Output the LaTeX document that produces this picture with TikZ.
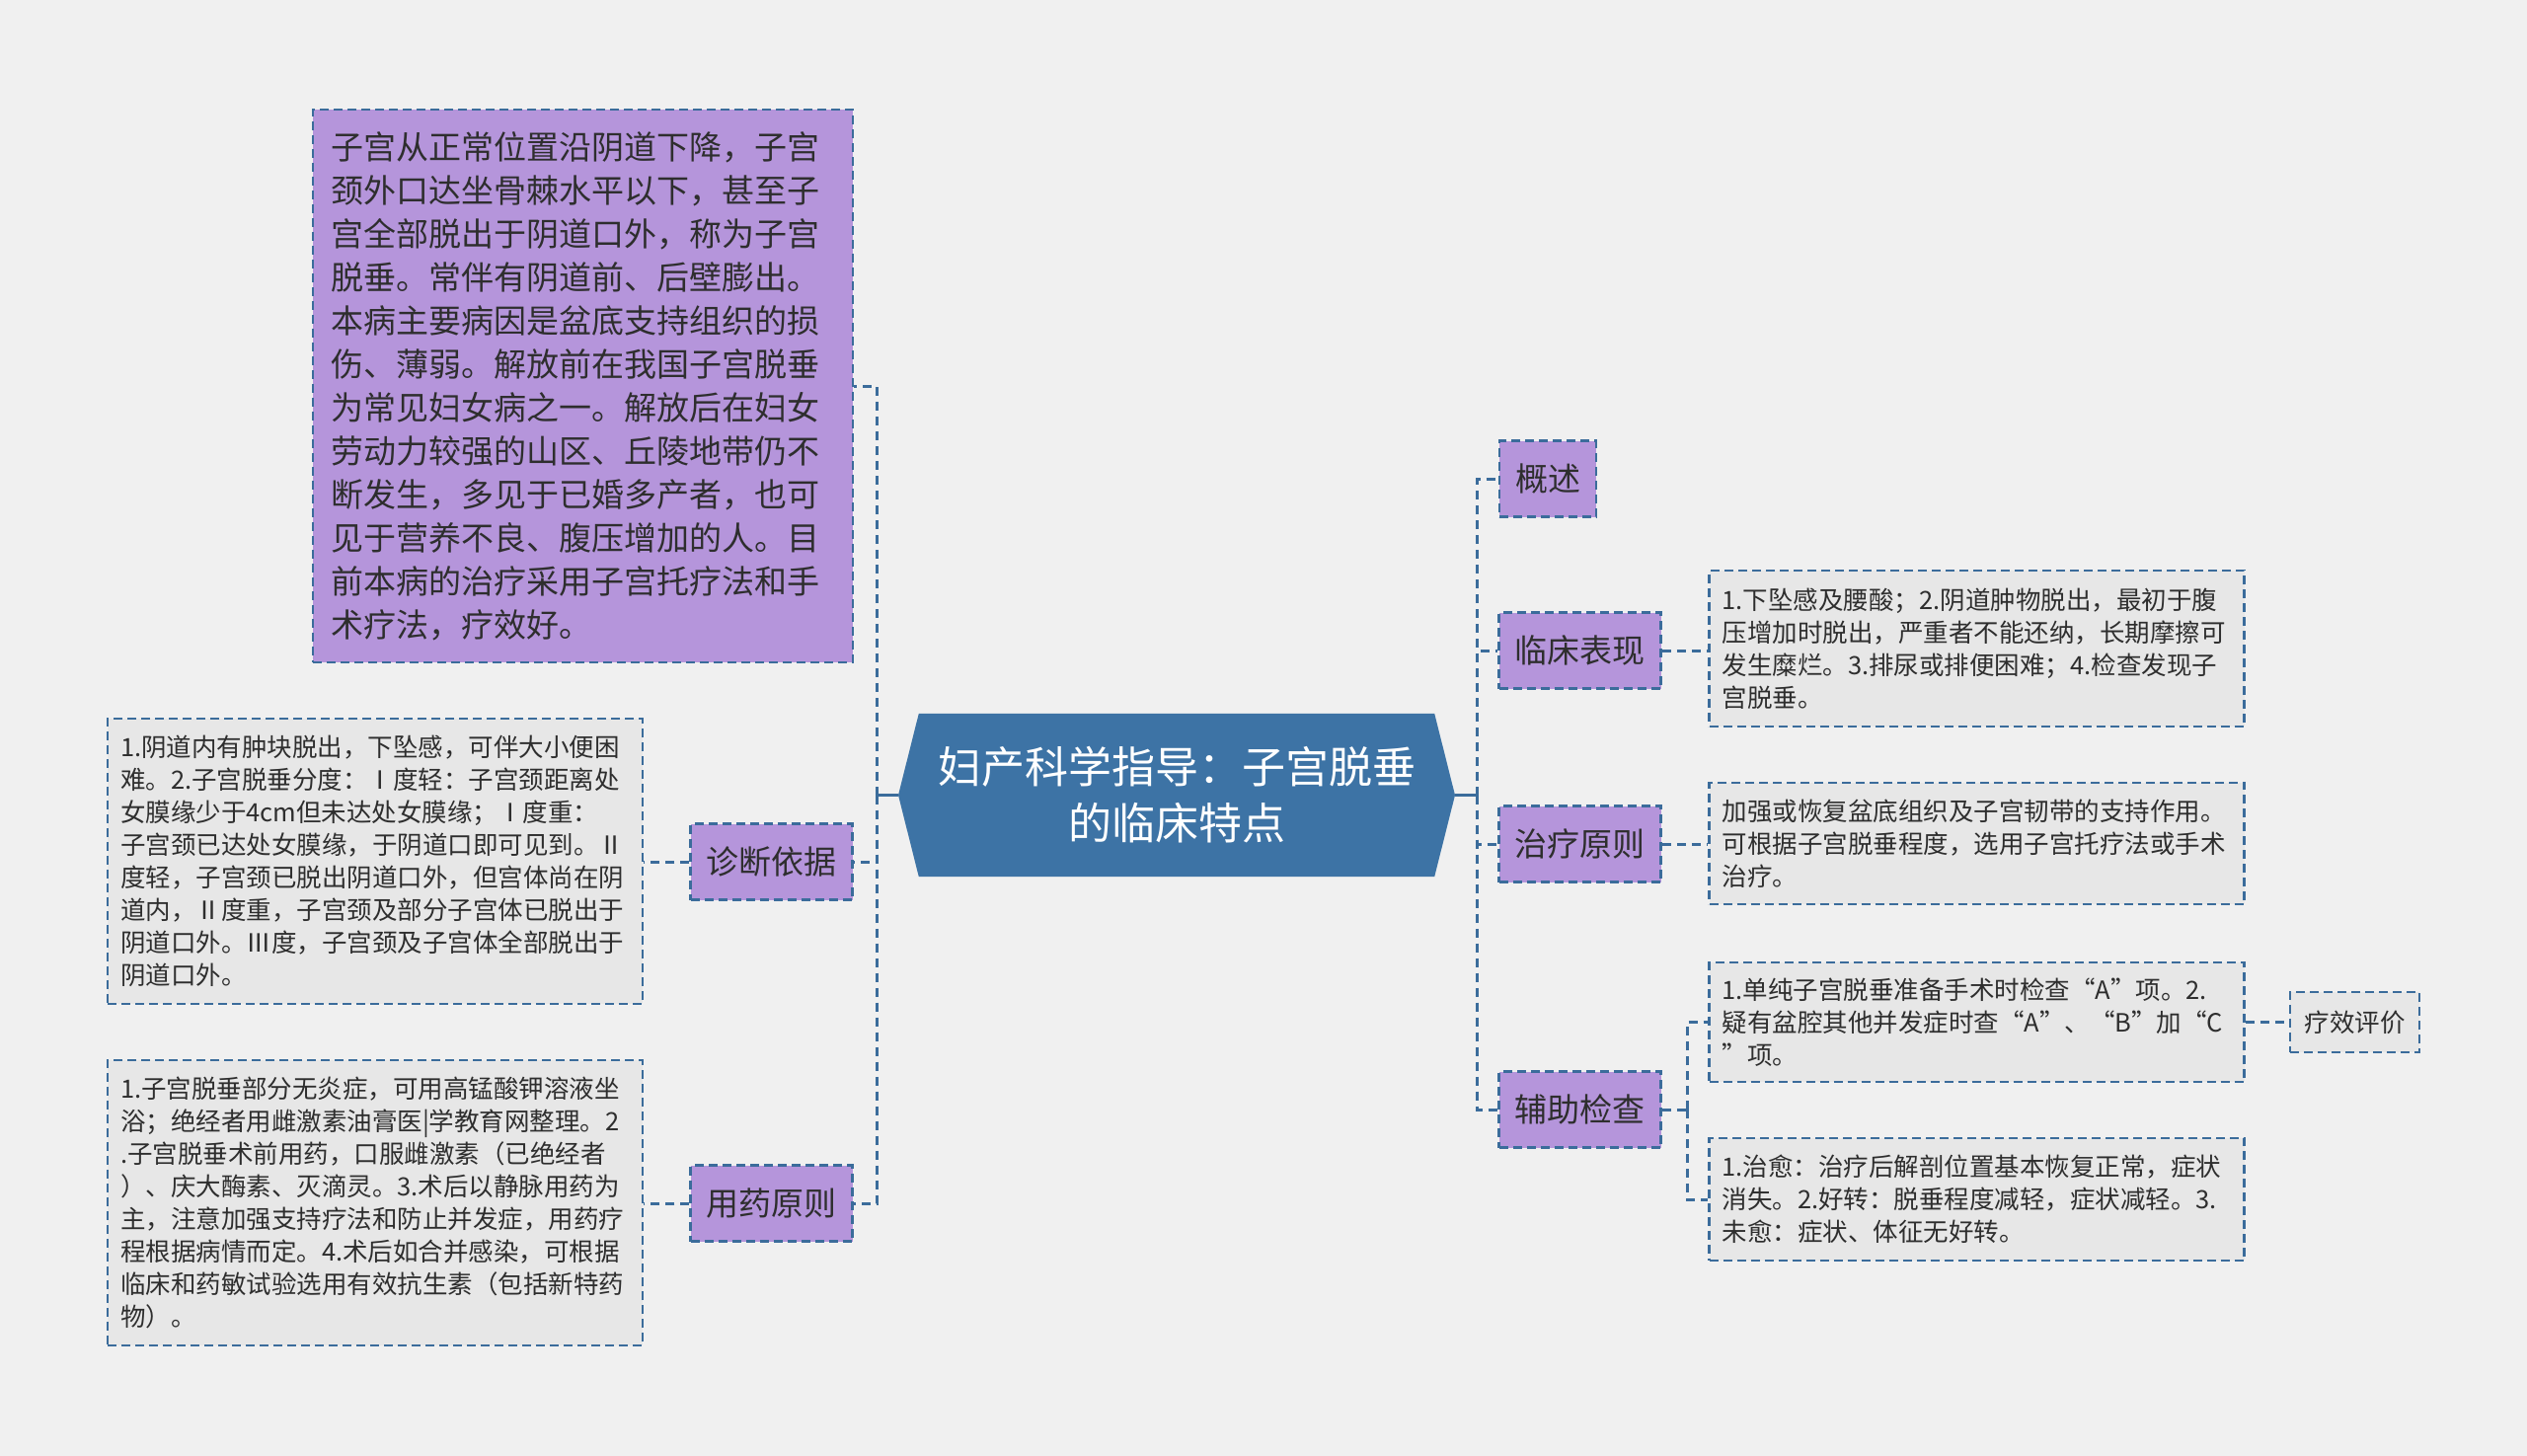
\documentclass[tikz,border=0pt]{standalone}
\usepackage{fontspec}
\setmainfont{Noto Sans CJK SC}
\definecolor{bg}{HTML}{F0F0F0}
\definecolor{purp}{HTML}{B595DB}
\definecolor{bord}{HTML}{3B6C9B}
\definecolor{hub}{HTML}{3D73A5}
\definecolor{grayf}{HTML}{E7E7E7}
\definecolor{txt}{HTML}{2E2E2E}
\tikzset{
  boxline/.style={draw=bord, line width=2.5pt, dash pattern=on 9pt off 5pt},
  lvl/.style={boxline, fill=purp, text=txt, font=\fontsize{33}{40}\selectfont,
    minimum height=77pt, inner xsep=16pt, inner ysep=0pt},
  detail/.style={boxline, fill=grayf, text=txt, font=\fontsize{25.5}{33}\selectfont,
    align=left, text width=516pt, minimum width=542pt, inner xsep=13pt, inner ysep=12pt},
  conn/.style={draw=bord, line width=3pt, dash pattern=on 9pt off 6pt},
  solidc/.style={draw=bord, line width=3pt},
}
\begin{document}
\begin{tikzpicture}[x=1pt,y=-1pt]
\useasboundingbox (0,0) rectangle (2560,1475);
\fill[bg] (0,0) rectangle (2560,1475);

% central hexagon
\node[minimum width=522pt, minimum height=165pt, inner sep=0pt] (hub) at (1192,805.5) {};
\coordinate (cl) at (910,805.5);
\coordinate (cr) at (1474,805.5);
\fill[hub] (hub.north west) -- (hub.north east) -- (cr) -- (hub.south east) -- (hub.south west) -- (cl) -- cycle;
\node[text=white, font=\fontsize{44}{57}\selectfont, align=center] (title) at (hub.center) {妇产科学指导：子宫脱垂\\的临床特点};

% left side
\node[boxline, fill=purp, text=txt, font=\fontsize{33}{44}\selectfont, align=left,
  text width=511pt, minimum width=547pt, minimum height=560pt, inner xsep=18pt] (ov) at (590.5,391) {%
子宫从正常位置沿阴道下降，子宫\\
颈外口达坐骨棘水平以下，甚至子\\
宫全部脱出于阴道口外，称为子宫\\
脱垂。常伴有阴道前、后壁膨出。\\
本病主要病因是盆底支持组织的损\\
伤、薄弱。解放前在我国子宫脱垂\\
为常见妇女病之一。解放后在妇女\\
劳动力较强的山区、丘陵地带仍不\\
断发生，多见于已婚多产者，也可\\
见于营养不良、腹压增加的人。目\\
前本病的治疗采用子宫托疗法和手\\
术疗法，疗效好。};

\node[lvl] (diag) at (781.5,873) {诊断依据};
\node[lvl] (drug) at (781.5,1219) {用药原则};

\node[detail, minimum height=289pt] (diagd) at (380,872.5) {%
1.阴道内有肿块脱出，下坠感，可伴大小便困\\
难。2.子宫脱垂分度：Ⅰ度轻：子宫颈距离处\\
女膜缘少于4cm但未达处女膜缘；Ⅰ度重：\\
子宫颈已达处女膜缘，于阴道口即可见到。Ⅱ\\
度轻，子宫颈已脱出阴道口外，但宫体尚在阴\\
道内，Ⅱ度重，子宫颈及部分子宫体已脱出于\\
阴道口外。Ⅲ度，子宫颈及子宫体全部脱出于\\
阴道口外。};

\node[detail, minimum height=289pt] (drugd) at (380,1218.5) {%
1.子宫脱垂部分无炎症，可用高锰酸钾溶液坐\\
浴；绝经者用雌激素油膏医|学教育网整理。2\\
.子宫脱垂术前用药，口服雌激素（已绝经者\\
）、庆大酶素、灭滴灵。3.术后以静脉用药为\\
主，注意加强支持疗法和防止并发症，用药疗\\
程根据病情而定。4.术后如合并感染，可根据\\
临床和药敏试验选用有效抗生素（包括新特药\\
物）。};

% right side
\node[lvl] (gs) at (1568,485) {概述};
\node[lvl] (lc) at (1600.5,659) {临床表现};
\node[lvl] (zl) at (1600.5,855) {治疗原则};
\node[lvl] (fz) at (1600.5,1124) {辅助检查};

\node[detail, minimum height=158pt] (lcd) at (2002.5,657) {%
1.下坠感及腰酸；2.阴道肿物脱出，最初于腹\\
压增加时脱出，严重者不能还纳，长期摩擦可\\
发生糜烂。3.排尿或排便困难；4.检查发现子\\
宫脱垂。};

\node[detail, minimum height=123pt] (zld) at (2002.5,854.5) {%
加强或恢复盆底组织及子宫韧带的支持作用。\\
可根据子宫脱垂程度，选用子宫托疗法或手术\\
治疗。};

\node[detail, minimum height=121pt] (fz1) at (2002.5,1035.5) {%
1.单纯子宫脱垂准备手术时检查“A”项。2.\\
疑有盆腔其他并发症时查“A”、“B”加“C\\
”项。};

\node[detail, minimum height=124pt] (fz2) at (2002.5,1215) {%
1.治愈：治疗后解剖位置基本恢复正常，症状\\
消失。2.好转：脱垂程度减轻，症状减轻。3.\\
未愈：症状、体征无好转。};

\node[boxline, fill=grayf, text=txt, font=\fontsize{25.5}{33}\selectfont,
  minimum width=131pt, minimum height=61pt, inner sep=0pt] (lx) at (2385.5,1035.5) {疗效评价};

% connectors
\coordinate (jl) at (888,805.5);
\coordinate (jr) at (1496,805.5);
\coordinate (jf) at (1709,1124);

\draw[solidc] (cl) -- (jl);
\draw[solidc] (cr) -- (jr);
\draw[conn] (jl) |- (ov.east);
\draw[conn] (jl) |- (diag.east);
\draw[conn] (jl) |- (drug.east);
\draw[conn] (diag.west) -- (diag.west -| diagd.east);
\draw[conn] (drug.west) -- (drug.west -| drugd.east);

\draw[conn] (jr) |- (gs.west);
\draw[conn] (jr) |- (lc.west);
\draw[conn] (jr) |- (zl.west);
\draw[conn] (jr) |- (fz.west);
\draw[conn] (lc.east) -- (lc.east -| lcd.west);
\draw[conn] (zl.east) -- (zl.east -| zld.west);
\draw[conn] (fz.east) -- (jf);
\draw[conn] (jf) |- (fz1.west);
\draw[conn] (jf) |- (fz2.west);
\draw[conn] (fz1.east) -- (lx.west);
\end{tikzpicture}
\end{document}
